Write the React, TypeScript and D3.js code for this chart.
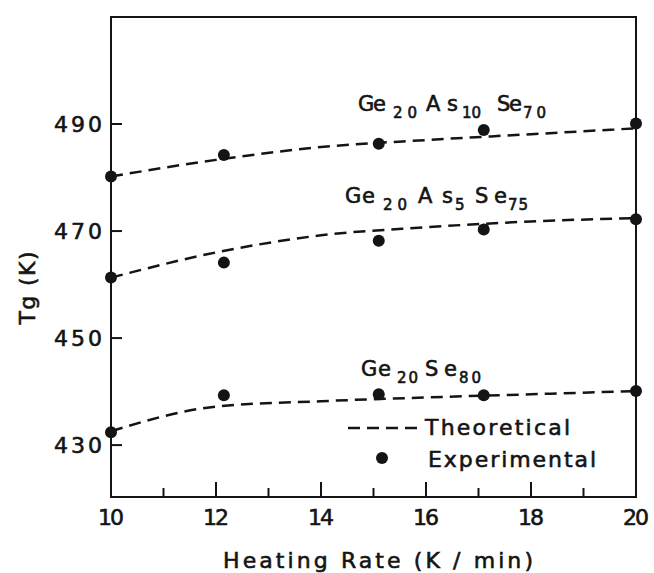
import React, { useEffect, useRef } from "react";
import * as d3 from "d3";

// heating rate (K/min)
const expRates = [10, 12.15, 15.1, 17.1, 20];
const theoRates = [10, 12, 14, 16, 18, 20];

// experimental Tg (K)
const expAs10 = [480.2, 484.2, 486.3, 488.9, 490.1];
const expAs5 = [461.3, 464.1, 468.2, 470.3, 472.2];
const expSe80 = [432.4, 439.3, 439.5, 439.3, 440.1];

// theoretical Tg (K)
const theoAs10 = [480.2, 483.3, 485.7, 487.0, 488.1, 489.2];
const theoAs5 = [461.3, 466.0, 469.2, 470.7, 471.8, 472.4];
const theoSe80 = [432.6, 437.2, 438.2, 438.9, 439.5, 440.1];

const xTicks = [10, 12, 14, 16, 18, 20];
const xMinor = [11, 13, 15, 17, 19];
const yTicks = [430, 450, 470, 490];

const drawChart = (svgEl) => {
  const left = 111;
  const right = 636;
  const top = 17;
  const bottom = 497;

  const svg = d3.select(svgEl);
  svg.selectAll("*").remove();

  const xScale = d3.scaleLinear().domain([10, 20]).range([left, right]);
  const yScale = d3.scaleLinear().domain([420.3, 510]).range([bottom, top]);

  const font = "'DejaVu Sans', sans-serif";
  const ink = "#141414";

  // plain text helper, width forced to match the scan
  const addText = (x, y, str, size, len, anchor = "start") => {
    const t = svg
      .append("text")
      .attr("x", x)
      .attr("y", y)
      .attr("text-anchor", anchor)
      .style("font-family", font)
      .style("font-size", `${size}px`)
      .attr("fill", ink)
      .attr("stroke", ink)
      .attr("stroke-width", 0.6)
      .text(str);
    if (len) t.attr("textLength", len).attr("lengthAdjust", "spacing");
    return t;
  };

  // frame
  svg
    .append("rect")
    .attr("x", left)
    .attr("y", top)
    .attr("width", right - left)
    .attr("height", bottom - top)
    .attr("fill", "none")
    .attr("stroke", ink)
    .attr("stroke-width", 2);

  // x ticks (inside, pointing up)
  svg
    .selectAll("line.xmaj")
    .data(xTicks.slice(1, -1))
    .enter()
    .append("line")
    .attr("x1", (d) => xScale(d))
    .attr("x2", (d) => xScale(d))
    .attr("y1", bottom)
    .attr("y2", bottom - 15)
    .attr("stroke", ink)
    .attr("stroke-width", 2);

  svg
    .selectAll("line.xmin")
    .data(xMinor)
    .enter()
    .append("line")
    .attr("x1", (d) => xScale(d))
    .attr("x2", (d) => xScale(d))
    .attr("y1", bottom)
    .attr("y2", bottom - 9)
    .attr("stroke", ink)
    .attr("stroke-width", 2);

  xTicks.forEach((d) => addText(xScale(d), 525, d, 22, 26, "middle"));

  // y ticks (inside, pointing right)
  svg
    .selectAll("line.ytick")
    .data(yTicks)
    .enter()
    .append("line")
    .attr("x1", left)
    .attr("x2", left + 11)
    .attr("y1", (d) => yScale(d))
    .attr("y2", (d) => yScale(d))
    .attr("stroke", ink)
    .attr("stroke-width", 2);

  yTicks.forEach((d) => addText(102, yScale(d) + 8, d, 22, 48, "end"));

  // axis titles
  addText(223, 568, "Heating Rate (K / min)", 22, 310);
  addText(0, 0, "Tg (K)", 22, 73, "middle").attr(
    "transform",
    "translate(35,288) rotate(-90)"
  );

  // theoretical curves
  const line = d3
    .line()
    .x((d) => xScale(d[0]))
    .y((d) => yScale(d[1]))
    .curve(d3.curveMonotoneX);

  [theoAs10, theoAs5, theoSe80].forEach((vals) => {
    svg
      .append("path")
      .datum(theoRates.map((r, i) => [r, vals[i]]))
      .attr("d", line)
      .attr("fill", "none")
      .attr("stroke", ink)
      .attr("stroke-width", 2.5)
      .attr("stroke-dasharray", "12,7");
  });

  // experimental points
  [expAs10, expAs5, expSe80].forEach((vals) => {
    svg
      .append("g")
      .selectAll("circle")
      .data(expRates.map((r, i) => [r, vals[i]]))
      .enter()
      .append("circle")
      .attr("cx", (d) => xScale(d[0]))
      .attr("cy", (d) => yScale(d[1]))
      .attr("r", 6)
      .attr("fill", ink);
  });

  // composition labels: [text, x0, x1, isSubscript]
  const addFormula = (base, parts) => {
    parts.forEach(([str, x0, x1, sub]) => {
      addText(x0, sub ? base + 7 : base, str, sub ? 15 : 21, x1 - x0);
    });
  };

  addFormula(111, [
    ["Ge", 358, 386, false],
    ["20", 393, 417, true],
    ["As", 426, 458, false],
    ["10", 462, 481, true],
    ["Se", 497, 522, false],
    ["70", 523, 546, true],
  ]);
  addFormula(203, [
    ["Ge", 345, 375, false],
    ["20", 383, 407, true],
    ["As", 418, 453, false],
    ["5", 455, 463, true],
    ["Se", 475, 507, false],
    ["75", 508, 528, true],
  ]);
  addFormula(376, [
    ["Ge", 361, 391, false],
    ["20", 397, 418, true],
    ["Se", 425, 457, false],
    ["80", 459, 481, true],
  ]);

  // legend
  svg
    .append("line")
    .attr("x1", 348)
    .attr("x2", 419)
    .attr("y1", 428)
    .attr("y2", 428)
    .attr("stroke", ink)
    .attr("stroke-width", 2.5)
    .attr("stroke-dasharray", "12,7");
  addText(425, 435, "Theoretical", 22, 145);
  svg
    .append("circle")
    .attr("cx", 382)
    .attr("cy", 458)
    .attr("r", 6)
    .attr("fill", ink);
  addText(428, 467, "Experimental", 22, 168);
};

const App = () => {
  const svgRef = useRef(null);

  useEffect(() => {
    drawChart(svgRef.current);
  }, []);

  return (
    <svg
      ref={svgRef}
      width="654"
      height="573"
      style={{ position: "absolute", left: 0, top: 0, background: "#fff" }}
    ></svg>
  );
};

export default App;
